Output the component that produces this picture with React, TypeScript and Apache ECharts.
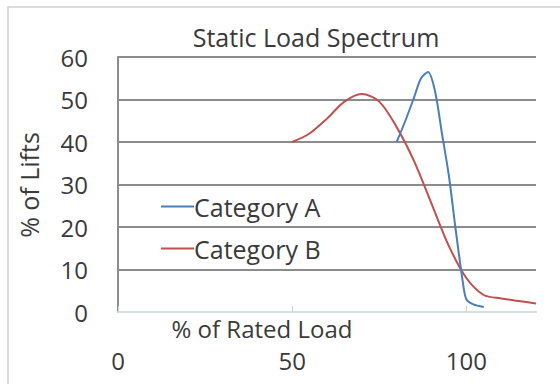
import React, { useEffect, useRef } from "react";
import * as echarts from "echarts";

const titleText = "Static Load Spectrum";
const xAxisTitle = "% of Rated Load";
const yAxisTitle = "% of Lifts";
const seriesNames = ["Category A", "Category B"];
const categoryAX = [80, 82.5, 85, 87, 89, 91, 93, 95, 97, 99, 100, 102, 105];
const categoryAY = [40, 45, 50.5, 55, 56.5, 52, 42, 32, 19, 7, 3, 1.8, 1.2];
const categoryBX = [50, 55, 60, 65, 70, 75, 80, 85, 90, 95, 100, 105, 110, 115, 120];
const categoryBY = [40, 42, 45.5, 49.5, 51.3, 49.5, 43.5, 35.5, 25.5, 15.5, 8, 4, 3.2, 2.6, 2];

const FONT = "'Open Sans', 'Noto Sans', sans-serif";
const TXT = "#3a3a3a";

export default function App() {
  const ref = useRef<HTMLDivElement>(null);
  useEffect(() => {
    if (!ref.current) return;
    const chart = echarts.init(ref.current, undefined, { renderer: "svg" });
    const dataA = categoryAX.map((x, i) => [x, categoryAY[i]]);
    const dataB = categoryBX.map((x, i) => [x, categoryBY[i]]);
    chart.setOption({
      animation: false,
      backgroundColor: "#ffffff",
      textStyle: { fontFamily: FONT },
      grid: { left: 118, right: 24, top: 57, bottom: 72, containLabel: false },
      legend: {
        orient: "vertical",
        left: 156,
        top: 189,
        itemWidth: 33,
        itemHeight: 2,
        itemGap: 17,
        icon: "rect",
        textStyle: { fontFamily: FONT, fontSize: 25, color: TXT, padding: [0, 0, 0, -5] },
        data: seriesNames,
      },
      xAxis: {
        type: "value",
        min: 0,
        max: 120,
        interval: 50,
        axisLine: { show: true, lineStyle: { color: "#d6dde6", width: 2 } },
        axisTick: { show: true, inside: true, length: 6, lineStyle: { color: "#d0d0d0" } },
        axisLabel: { showMaxLabel: false, margin: 36, fontSize: 24, lineHeight: 24, color: TXT, fontFamily: FONT },
        splitLine: { show: false },
      },
      yAxis: {
        type: "value",
        min: 0,
        max: 60,
        interval: 10,
        axisLine: { show: true, lineStyle: { color: "#8c8c8c", width: 2 } },
        axisTick: { show: false },
        axisLabel: { margin: 30, fontSize: 24, color: TXT, fontFamily: FONT },
        splitLine: { show: true, showMinLine: false, lineStyle: { color: "#8c8c8c", width: 2 } },
      },
      graphic: [
        {
          type: "rect",
          shape: { x: 8, y: 7, width: 620, height: 420 },
          style: { fill: "none", stroke: "#d0d0d0", lineWidth: 1.5 },
          silent: true,
        },
        {
          type: "text",
          x: 316,
          y: 37,
          style: { text: titleText, font: `25px ${FONT}`, fill: TXT, textAlign: "center", textVerticalAlign: "middle" },
        },
        {
          type: "text",
          x: 262,
          y: 328,
          style: { text: xAxisTitle, font: `24px ${FONT}`, fill: TXT, textAlign: "center", textVerticalAlign: "middle" },
        },
        {
          type: "text",
          x: 29,
          y: 185,
          rotation: Math.PI / 2,
          style: { text: yAxisTitle, font: `25px ${FONT}`, fill: TXT, textAlign: "center", textVerticalAlign: "middle" },
        },
      ],
      series: [
        {
          name: seriesNames[0],
          type: "line",
          data: dataA,
          smooth: 0.3,
          symbol: "none",
          lineStyle: { color: "#4a7ebb", width: 2 },
          itemStyle: { color: "#4a7ebb" },
          z: 3,
        },
        {
          name: seriesNames[1],
          type: "line",
          data: dataB,
          smooth: 0.3,
          symbol: "none",
          lineStyle: { color: "#c0504d", width: 2 },
          itemStyle: { color: "#c0504d" },
          z: 2,
        },
      ],
    });
    return () => chart.dispose();
  }, []);
  return <div ref={ref} style={{ position: "fixed", left: 0, top: 0, width: 560, height: 384 }} />;
}
